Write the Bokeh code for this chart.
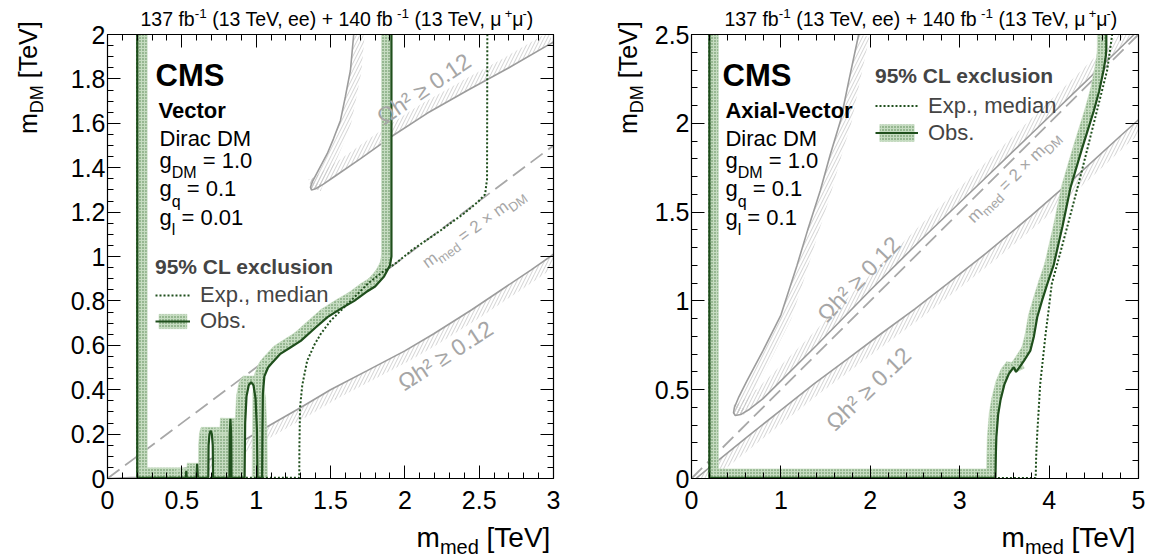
import math
import numpy as np
from bokeh.plotting import figure
from bokeh.layouts import row
from bokeh.models import Label, LinearAxis, FixedTicker, Range1d, Legend, LegendItem, NumeralTickFormatter
from bokeh.embed import file_html
from bokeh.resources import INLINE

FONT = "Liberation Sans"

# ---------------- data: Vector panel ----------------
vec_xticks = [0, 0.5, 1, 1.5, 2, 2.5, 3]
vec_xtick_labels = ["0", "0.5", "1", "1.5", "2", "2.5", "3"]
vec_yticks = [0, 0.2, 0.4, 0.6, 0.8, 1, 1.2, 1.4, 1.6, 1.8, 2]
vec_ytick_labels = ["0", "0.2", "0.4", "0.6", "0.8", "1", "1.2", "1.4", "1.6", "1.8", "2"]

vec_obs_x = [0.20, 0.20, 0.527, 0.530, 0.533, 0.598, 0.603, 0.608, 0.678, 0.680, 0.686, 0.694, 0.702, 0.708, 0.710,
             0.820, 0.822, 0.827, 0.832, 0.834, 0.922, 0.926, 0.935, 0.950, 0.966, 0.982, 0.996, 1.005, 1.009,
             1.040, 1.042, 1.045, 1.055, 1.08, 1.10, 1.16, 1.23, 1.30, 1.40, 1.48, 1.57, 1.66, 1.74, 1.80, 1.86,
             1.90, 1.91, 1.91]
vec_obs_y = [2.00, 0.003, 0.003, 0.035, 0.003, 0.003, 0.066, 0.003, 0.003, 0.15, 0.20, 0.216, 0.20, 0.15, 0.003,
             0.003, 0.20, 0.269, 0.20, 0.003, 0.003, 0.25, 0.37, 0.42, 0.434, 0.42, 0.36, 0.22, 0.003,
             0.003, 0.20, 0.38, 0.46, 0.50, 0.516, 0.56, 0.59, 0.62, 0.68, 0.727, 0.765, 0.80, 0.84, 0.865, 0.91,
             0.96, 1.00, 2.00]
vec_exp_x = [0.20, 0.20, 1.290, 1.291, 1.295, 1.31, 1.343, 1.39, 1.433, 1.50, 1.57, 1.65, 1.75, 1.85, 1.94,
             2.05, 2.24, 2.40, 2.49, 2.54, 2.553, 2.555]
vec_exp_y = [2.00, 0.003, 0.003, 0.15, 0.32, 0.42, 0.53, 0.60, 0.65, 0.71, 0.757, 0.81, 0.877, 0.93, 0.97,
             1.03, 1.117, 1.195, 1.245, 1.28, 1.35, 2.00]
vec_relic_up_x = [1.656, 1.634, 1.600, 1.567, 1.520, 1.478, 1.420, 1.380, 1.365, 1.372, 1.400, 1.450, 1.520,
                  1.700, 1.903, 2.150, 2.420, 2.700, 2.957, 3.000]
vec_relic_up_y = [2.000, 1.838, 1.720, 1.613, 1.530, 1.463, 1.390, 1.340, 1.312, 1.300, 1.305, 1.325, 1.357,
                  1.440, 1.537, 1.645, 1.748, 1.850, 1.950, 1.965]
vec_relic_lo_x = [0.0, 0.2, 0.4, 0.55, 0.70, 0.85, 1.03, 1.30, 1.50, 1.747, 2.0, 2.195, 2.45, 2.643, 2.85, 3.0]
vec_relic_lo_y = [0.0, 0.005, 0.025, 0.05, 0.09, 0.145, 0.216, 0.32, 0.40, 0.486, 0.575, 0.652, 0.76, 0.847, 0.94, 1.01]
vec_diag_x = [0, 3]
vec_diag_y = [0, 1.5]

# ---------------- data: Axial-vector panel ----------------
ax_xticks = [0, 1, 2, 3, 4, 5]
ax_xtick_labels = ["0", "1", "2", "3", "4", "5"]
ax_yticks = [0, 0.5, 1, 1.5, 2, 2.5]
ax_ytick_labels = ["0", "0.5", "1", "1.5", "2", "2.5"]

ax_obs_x = [0.20, 0.20, 3.400, 3.405, 3.410, 3.430, 3.456, 3.500, 3.550, 3.605, 3.630, 3.660, 3.720, 3.790,
            3.830, 3.867, 3.920, 3.980, 4.050, 4.150, 4.240, 4.370, 4.500, 4.560, 4.610, 4.635, 4.640, 4.640]
ax_obs_y = [2.50, 0.003, 0.003, 0.150, 0.233, 0.360, 0.440, 0.530, 0.590, 0.627, 0.600, 0.620, 0.664, 0.720,
            0.800, 0.908, 1.000, 1.096, 1.200, 1.420, 1.640, 1.860, 2.070, 2.180, 2.300, 2.380, 2.420, 2.500]
ax_exp_x = [0.20, 0.20, 3.850, 3.855, 3.867, 3.885, 3.900, 3.930, 3.960, 3.995, 4.030, 4.130, 4.220, 4.340,
            4.460, 4.560, 4.650, 4.700, 4.705]
ax_exp_y = [2.50, 0.003, 0.003, 0.120, 0.250, 0.400, 0.530, 0.670, 0.810, 0.950, 1.096, 1.280, 1.450, 1.680,
            1.920, 2.120, 2.300, 2.480, 2.500]
ax_relic_up_x = [1.87, 1.76, 1.67, 1.55, 1.44, 1.30, 1.18, 1.00, 0.80, 0.62, 0.53, 0.48, 0.47, 0.49, 0.55,
                 0.65, 0.80, 1.00, 1.40, 2.00, 2.60, 3.20, 3.80, 4.40, 4.95]
ax_relic_up_y = [2.50, 2.24, 2.02, 1.82, 1.62, 1.40, 1.20, 0.92, 0.72, 0.55, 0.46, 0.40, 0.37, 0.355, 0.36,
                 0.39, 0.45, 0.55, 0.75, 1.06, 1.36, 1.65, 1.94, 2.23, 2.50]
ax_relic_lo_x = [0.05, 0.21, 0.62, 1.00, 1.37, 1.75, 2.12, 2.50, 2.86, 3.30, 3.80, 4.30, 4.80, 5.00]
ax_relic_lo_y = [0.00, 0.065, 0.233, 0.385, 0.533, 0.675, 0.815, 0.955, 1.096, 1.270, 1.480, 1.700, 1.930, 2.020]
ax_diag_x = [0, 5]
ax_diag_y = [0, 2.5]

# ---------------- styles ----------------
GREEN = "#1f4f1c"
BAND_FILL = "#c6dcc1"
BAND_DOT = "#4d7f47"
GREY_LINE = "#9c9c9c"
GREY_HATCH = "#c6c6c6"
GREY_TEXT = "#a6a6a6"
CANVAS_H = 558
BOX_TOP = 34
BOX_H = 444
BASE_K = 0.38   # baseline correction (fraction of font size)

W = {' ': 278, '!': 278, '%': 889, '(': 333, ')': 333, '+': 584, ',': 278, '-': 333, '.': 278,
     '=': 584, '[': 278, ']': 278, 'A': 667, 'C': 722, 'D': 722, 'E': 667, 'L': 556, 'M': 833,
     'O': 778, 'S': 667, 'T': 611, 'V': 667, 'a': 556, 'b': 556, 'c': 500, 'd': 556, 'e': 556,
     'f': 278, 'g': 556, 'h': 556, 'i': 222, 'l': 222, 'm': 833, 'n': 556, 'o': 556, 'p': 556,
     'q': 556, 'r': 333, 's': 500, 't': 278, 'u': 556, 'v': 500, 'x': 500, 'μ': 520, '×': 584,
     '≥': 549, 'Ω': 768}


def tw(s, size, bold=False):
    return sum(W.get(c, 556) for c in s) * size / 1000.0 * (1.06 if bold else 1.0)


def rich(p, x, y, pieces, angle=0.0, align="left", color="black"):
    a = math.radians(angle)
    ca, sa = math.cos(a), math.sin(a)
    total = sum(tw(t, s, b) for t, s, d, b in pieces)
    cur = {"left": 0.0, "right": -total, "center": -total / 2.0}[align]
    for text, size, dy, bold in pieces:
        lead = len(text) - len(text.lstrip(' '))
        trail = len(text) - len(text.rstrip(' '))
        core = text.strip(' ')
        cur += lead * W[' '] * size / 1000.0
        d = dy + BASE_K * size
        ox = cur * ca - d * sa
        oy = cur * sa + d * ca
        p.add_layout(Label(x=x, y=y, x_offset=ox, y_offset=oy, text=core, angle=a,
                           text_font=FONT, text_font_size=f"{size}px",
                           text_font_style="bold" if bold else "normal",
                           text_color=color, text_align="left", text_baseline="alphabetic"))
        cur += tw(core, size, bold) + trail * W[' '] * size / 1000.0


def clip_poly(xs, ys, x0, x1, y0, y1):
    pts = list(zip(xs, ys))
    for axis, val, greater in [(0, x0, True), (0, x1, False), (1, y0, True), (1, y1, False)]:
        out = []
        n = len(pts)
        for i in range(n):
            c, pv = pts[i], pts[i - 1]
            cin = c[axis] >= val if greater else c[axis] <= val
            pin = pv[axis] >= val if greater else pv[axis] <= val
            if cin != pin:
                t = (val - pv[axis]) / (c[axis] - pv[axis])
                out.append((pv[0] + t * (c[0] - pv[0]), pv[1] + t * (c[1] - pv[1])))
            if cin:
                out.append(c)
        pts = out
        if not pts:
            break
    return [q[0] for q in pts], [q[1] for q in pts]


def strip_quads(xs, ys, sx, sy, w, xmax, ymax):
    X = np.asarray(xs, float) * sx
    Y = np.asarray(ys, float) * sy
    qx, qy = [], []
    prev = None
    for i in range(len(X) - 1):
        dx, dy = X[i + 1] - X[i], Y[i + 1] - Y[i]
        L = math.hypot(dx, dy)
        if L == 0:
            continue
        nx, ny = -dy / L * w, dx / L * w
        qx.append([X[i], X[i + 1], X[i + 1] + nx, X[i] + nx])
        qy.append([Y[i], Y[i + 1], Y[i + 1] + ny, Y[i] + ny])
        if prev is not None:
            qx.append([X[i], X[i] + prev[0], X[i] + nx])
            qy.append([Y[i], Y[i] + prev[1], Y[i] + ny])
        prev = (nx, ny)
    ox, oy = [], []
    for a, b in zip(qx, qy):
        cx, cy = clip_poly([float(v / sx) for v in a], [float(v / sy) for v in b], 0, xmax, 0, ymax)
        if len(cx) >= 3:
            ox.append(cx)
            oy.append(cy)
    return ox, oy


def make_fig(canvas_w, box_left, box_w, xmax, ymax):
    sx, sy = box_w / xmax, BOX_H / ymax
    bottom_px = CANVAS_H - BOX_TOP - BOX_H
    p = figure(frame_width=canvas_w, frame_height=CANVAS_H,
               x_range=Range1d(-box_left / sx, (canvas_w - box_left) / sx),
               y_range=Range1d(-bottom_px / sy, ymax + BOX_TOP / sy),
               x_axis_type=None, y_axis_type=None,
               output_backend="svg", toolbar_location=None,
               min_border=0, min_border_left=0, min_border_right=0, min_border_top=0, min_border_bottom=0)
    p.xgrid.visible = False
    p.ygrid.visible = False
    p.outline_line_color = None
    p.background_fill_color = "white"
    p.border_fill_color = "white"
    return p, sx, sy


def setup_axes(p, xmax, ymax, xt, xl, xm, yt, yl, ym):
    xtick = FixedTicker(ticks=xt, minor_ticks=xm)
    ytick = FixedTicker(ticks=yt, minor_ticks=ym)
    bx = LinearAxis(ticker=xtick, fixed_location=0, bounds=(0, xmax))
    ly = LinearAxis(ticker=ytick, fixed_location=0, bounds=(0, ymax))
    tx = LinearAxis(ticker=xtick, fixed_location=ymax, bounds=(0, xmax))
    ry = LinearAxis(ticker=ytick, fixed_location=xmax, bounds=(0, ymax))
    bx.formatter = NumeralTickFormatter(format="0.[0]")
    ly.formatter = NumeralTickFormatter(format="0.[0]")
    bx.major_label_overrides = {t: l for t, l in zip(xt, xl)}
    ly.major_label_overrides = {t: l for t, l in zip(yt, yl)}
    for ax in [bx, ly, tx, ry]:
        ax.major_tick_in = 13
        ax.major_tick_out = 0
        ax.minor_tick_in = 6
        ax.minor_tick_out = 0
        ax.axis_line_color = "black"
        ax.axis_line_width = 1.2
        ax.major_tick_line_color = "black"
        ax.minor_tick_line_color = "black"
        ax.major_label_text_font = FONT
        ax.major_label_text_color = "black"
    for ax in [tx, ry]:
        ax.major_label_text_color = None
        ax.major_label_text_font_size = "1px"
    bx.major_label_text_font_size = "25px"
    ly.major_label_text_font_size = "25px"
    bx.major_label_standoff = 12
    ly.major_label_standoff = 2
    p.add_layout(bx, "below")
    p.add_layout(ly, "left")
    p.add_layout(tx, "above")
    p.add_layout(ry, "right")


def draw_panel(p, sx, sy, xmax, ymax, obs_x, obs_y, exp_x, exp_y, up_x, up_y, lo_x, lo_y, dg_x, dg_y, bandw):
    for xs, ys, w in [(up_x, up_y, 11), (lo_x, lo_y, -11)]:
        hx, hy = strip_quads(xs, ys, sx, sy, w, xmax, ymax)
        p.patches(hx, hy, fill_color=None, line_color=None, hatch_pattern="/",
                  hatch_color=GREY_HATCH, hatch_scale=7, hatch_weight=0.8)
        p.line(xs, ys, line_color=GREY_LINE, line_width=1.6)
    p.line(dg_x, dg_y, line_color="#a8a8a8", line_width=1.8, line_dash="15 7")
    bx_, by_ = strip_quads(obs_x, obs_y, sx, sy, bandw, xmax, ymax)
    band = p.patches(bx_, by_, fill_color=BAND_FILL, line_color=BAND_FILL, line_width=0.6,
                     hatch_pattern=".", hatch_color=BAND_DOT, hatch_scale=3, hatch_weight=0.9)
    obs = p.line(obs_x, obs_y, line_color=GREEN, line_width=2.2)
    exp = p.line(exp_x, exp_y, line_color=GREEN, line_width=2, line_dash="2 2")
    return band, obs, exp


def add_legend(p, band, obs, exp, loc, gw, gh, lh, standoff):
    leg = Legend(items=[LegendItem(label="Exp., median", renderers=[exp]),
                        LegendItem(label="Obs.", renderers=[band, obs])],
                 location=loc, title="95% CL exclusion",
                 title_text_font=FONT, title_text_font_size="21px", title_text_font_style="bold",
                 title_standoff=standoff, label_text_font=FONT, label_text_font_size="22px",
                 glyph_width=gw, glyph_height=gh, label_height=lh, label_standoff=10,
                 spacing=0, padding=0, margin=0, border_line_color=None, background_fill_alpha=0)
    p.add_layout(leg)


def omega_label(p, x, y, ang):
    p.add_layout(Label(x=x, y=y, text="Ωh² ≥ 0.12", angle=math.radians(ang), text_font=FONT,
                       text_font_size="23px", text_color=GREY_TEXT, text_align="center", text_baseline="middle"))


TITLE = [("137 fb", 19.5, 0, False), ("-1", 13.5, 8, False), (" (13 TeV, ee) + 140 fb", 19.5, 0, False),
         ("-1", 13.5, 8, False), (" (13 TeV, μ", 19.5, 0, False), ("+", 13, 8, False), ("μ", 19.5, 0, False),
         ("-", 13, 8, False), (")", 19.5, 0, False)]
MED = [("m", 17, -6, False), ("med", 13, -10, False), (" = 2 × m", 17, -6, False), ("DM", 13, -10, False)]
XLAB = [("m", 28, 0, False), ("med", 20, -6, False), (" [TeV]", 28, 0, False)]
YLAB = [("m", 25, 0, False), ("DM", 18, -6, False), (" [TeV]", 25, 0, False)]

# ---------------- left panel ----------------
p1, sx1, sy1 = make_fig(563, 107, 446, 3, 2)
setup_axes(p1, 3, 2, vec_xticks, vec_xtick_labels, [round(0.1 * i, 2) for i in range(31)],
           vec_yticks, vec_ytick_labels, [round(0.05 * i, 2) for i in range(41)])
b1, o1, e1 = draw_panel(p1, sx1, sy1, 3, 2, vec_obs_x, vec_obs_y, vec_exp_x, vec_exp_y,
                        vec_relic_up_x, vec_relic_up_y, vec_relic_lo_x, vec_relic_lo_y,
                        vec_diag_x, vec_diag_y, 10)
add_legend(p1, b1, o1, e1, (155, 224), 35, 18, 24, 3)

omega_label(p1, 2.128, 1.755, 34)
omega_label(p1, 2.273, 0.554, 33)
rich(p1, 2.464, 1.125, MED, angle=36, align="center", color=GREY_TEXT)

rich(p1, 0.323, 1.761, [("CMS", 31, 0, True)])
rich(p1, 0.343, 1.622, [("Vector", 22, 0, True)])
rich(p1, 0.35, 1.492, [("Dirac DM", 22, 0, False)])
rich(p1, 0.35, 1.396, [("g", 22, 0, False), ("DM", 16, -10, False), (" = 1.0", 22, 0, False)])
rich(p1, 0.35, 1.267, [("g", 22, 0, False), ("q", 16, -10, False), (" = 0.1", 22, 0, False)])
rich(p1, 0.35, 1.140, [("g", 22, 0, False), ("l", 16, -10, False), (" = 0.01", 22, 0, False)])

rich(p1, (140 - 107) / sx1, (478 - 26) / sy1, TITLE, align="left")
rich(p1, 3.0, (478 - 548) / sy1, XLAB, align="right")
rich(p1, (37 - 107) / sx1, (478 - 18) / sy1, YLAB, angle=90, align="right")

# ---------------- right panel ----------------
p2, sx2, sy2 = make_fig(587, 128, 447, 5, 2.5)
setup_axes(p2, 5, 2.5, ax_xticks, ax_xtick_labels, [round(0.2 * i, 2) for i in range(26)],
           ax_yticks, ax_ytick_labels, [round(0.1 * i, 2) for i in range(26)])
b2, o2, e2 = draw_panel(p2, sx2, sy2, 5, 2.5, ax_obs_x, ax_obs_y, ax_exp_x, ax_exp_y,
                        ax_relic_up_x, ax_relic_up_y, ax_relic_lo_x, ax_relic_lo_y,
                        ax_diag_x, ax_diag_y, 9)
add_legend(p2, b2, o2, e2, (312, 412), 43, 21, 27, 4)

omega_label(p2, 1.87, 1.123, 46)
omega_label(p2, 1.98, 0.505, 44)
rich(p2, 3.605, 1.697, MED, angle=44.8, align="center", color=GREY_TEXT)

rich(p2, 0.347, 2.202, [("CMS", 31, 0, True)])
rich(p2, 0.38, 2.027, [("Axial-Vector", 22, 0, True)])
rich(p2, 0.38, 1.865, [("Dirac DM", 22, 0, False)])
rich(p2, 0.38, 1.745, [("g", 22, 0, False), ("DM", 16, -10, False), (" = 1.0", 22, 0, False)])
rich(p2, 0.38, 1.584, [("g", 22, 0, False), ("q", 16, -10, False), (" = 0.1", 22, 0, False)])
rich(p2, 0.38, 1.425, [("g", 22, 0, False), ("l", 16, -10, False), (" = 0.1", 22, 0, False)])

rich(p2, (724 - 691) / sx2, (478 - 26) / sy2, TITLE, align="left")
rich(p2, 5.0, (478 - 548) / sy2, XLAB, align="right")
rich(p2, (637 - 691) / sx2, (478 - 18) / sy2, YLAB, angle=90, align="right")

layout = row(p1, p2)
open("out.html", "w").write(file_html(layout, INLINE))
